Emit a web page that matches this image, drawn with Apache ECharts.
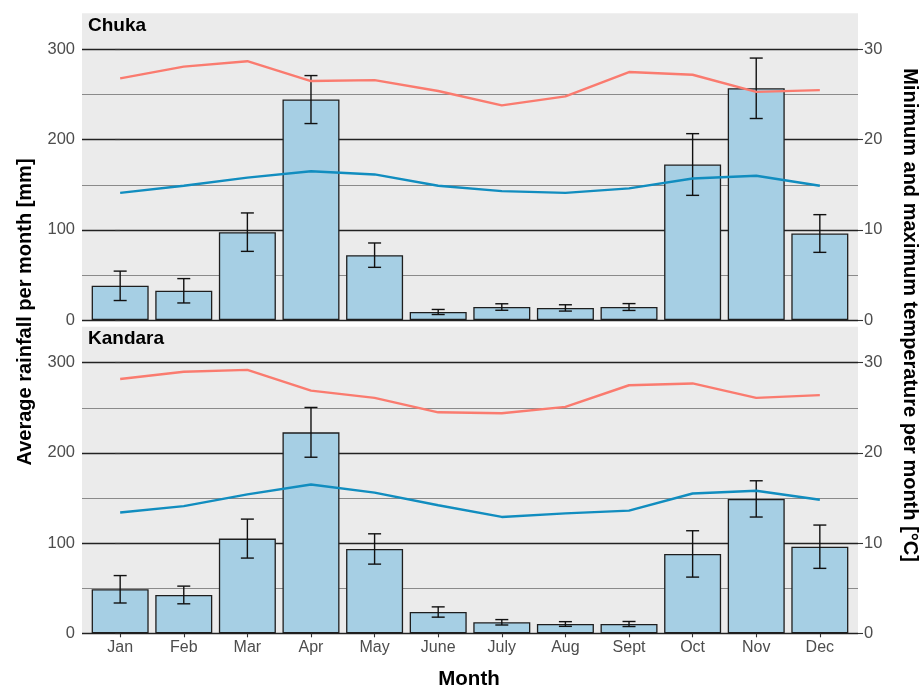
<!DOCTYPE html>
<html>
<head>
<meta charset="utf-8">
<script src="https://cdn.jsdelivr.net/npm/echarts@6/dist/echarts.min.js"></script>
<style>html,body{margin:0;padding:0;background:#fff}#c{width:921px;height:688px}</style>
</head>
<body>
<div id="c"></div>
<script>
var months = ['Jan','Feb','Mar','Apr','May','June','July','Aug','Sept','Oct','Nov','Dec'];
var rainTicks = [0, 100, 200, 300];
var tempTicks = [0, 10, 20, 30];

var chukaRain = [38, 32.5, 97.5, 244.5, 72, 9, 14.5, 13.5, 14.5, 172.5, 257, 96];
var chukaErr  = [16.3, 13.5, 21.3, 26.6, 13.5, 2.8, 3.6, 3.5, 3.8, 34.2, 33.5, 20.9];
var chukaMax  = [26.8, 28.1, 28.7, 26.5, 26.6, 25.4, 23.8, 24.8, 27.5, 27.2, 25.3, 25.5];
var chukaMin  = [14.1, 14.9, 15.8, 16.5, 16.15, 14.9, 14.3, 14.1, 14.6, 15.7, 16.0, 14.9];

var kandaraRain = [48.8, 42.5, 105, 222.8, 93.5, 23.6, 12.2, 10.3, 10.3, 88, 149, 96];
var kandaraErr  = [15.2, 9.8, 21.6, 27.6, 16.8, 5.7, 3.0, 2.6, 2.8, 25.7, 20.1, 24];
var kandaraMax  = [28.2, 29.0, 29.2, 26.9, 26.1, 24.5, 24.4, 25.1, 27.5, 27.7, 26.1, 26.4];
var kandaraMin  = [13.4, 14.1, 15.4, 16.5, 15.6, 14.2, 12.9, 13.3, 13.6, 15.5, 15.8, 14.8];

var panels = [
  {name: 'Chuka', rain: chukaRain, err: chukaErr, tmax: chukaMax, tmin: chukaMin},
  {name: 'Kandara', rain: kandaraRain, err: kandaraErr, tmax: kandaraMax, tmin: kandaraMin}
];

var FONT = '"Liberation Sans", Arial, sans-serif';
var LEFT = 82, WIDTH = 776;
var gridTops = [49.5, 362.7], gridH = 270.6;
var bgTops = [13.3, 326.7];

var chart = echarts.init(document.getElementById('c'), null, {renderer: 'canvas'});

var grids = [], xAxes = [], yAxes = [], series = [], graphics = [];
panels.forEach(function (p, k) {
  grids.push({left: LEFT, width: WIDTH, top: gridTops[k], height: gridH, containLabel: false});
  xAxes.push({
    type: 'value', gridIndex: k, min: -0.6, max: 11.6,
    axisLine: {show: false},
    splitLine: {show: false},
    axisTick: {show: k === 1, length: 4, lineStyle: {color: '#333', width: 1.1}, customValues: months.map(function (m, i) { return i; })},
    axisLabel: {show: k === 1, customValues: months.map(function (m, i) { return i; }),
      formatter: function (v) { return months[Math.round(v)]; },
      color: '#4d4d4d', fontSize: 16, fontFamily: FONT, margin: 6}
  });
  yAxes.push({
    type: 'value', gridIndex: k, min: 0, max: 300, interval: 100, position: 'left',
    axisLine: {show: false},
    axisTick: {show: true, length: 5, lineStyle: {color: '#333', width: 1.1}},
    axisLabel: {color: '#4d4d4d', fontSize: 16.5, fontFamily: FONT, margin: 7,
      customValues: rainTicks},
    splitLine: {show: true, lineStyle: {color: '#222', width: 1.3}},
    minorTick: {show: false, splitNumber: 2},
    minorSplitLine: {show: true, lineStyle: {color: '#8a8a8a', width: 1}}
  });
  yAxes.push({
    type: 'value', gridIndex: k, min: 0, max: 30, interval: 10, position: 'right',
    axisLine: {show: false},
    axisTick: {show: true, length: 5, lineStyle: {color: '#333', width: 1.1}},
    axisLabel: {color: '#4d4d4d', fontSize: 16.5, fontFamily: FONT, margin: 6,
      customValues: tempTicks},
    splitLine: {show: false}
  });
  var yl = k * 2, yr = k * 2 + 1;
  series.push({
    type: 'bar', xAxisIndex: k, yAxisIndex: yl, barWidth: 57, z: 2,
    data: p.rain.map(function (v, i) { return [i, v]; }),
    itemStyle: {color: '#a6cfe4', borderColor: '#1e1e1e', borderWidth: 1.3},
    emphasis: {disabled: true}
  });
  series.push({
    type: 'custom', xAxisIndex: k, yAxisIndex: yl, z: 3,
    data: p.rain.map(function (v, i) { return [i, v - p.err[i], v + p.err[i]]; }),
    renderItem: function (params, api) {
      var x = api.value(0);
      var lo = api.coord([x, api.value(1)]);
      var hi = api.coord([x, api.value(2)]);
      var hw = 6.5;
      var st = {stroke: '#111', lineWidth: 1.4};
      return {type: 'group', children: [
        {type: 'line', shape: {x1: lo[0], y1: lo[1], x2: hi[0], y2: hi[1]}, style: st},
        {type: 'line', shape: {x1: lo[0] - hw, y1: lo[1], x2: lo[0] + hw, y2: lo[1]}, style: st},
        {type: 'line', shape: {x1: hi[0] - hw, y1: hi[1], x2: hi[0] + hw, y2: hi[1]}, style: st}
      ]};
    }
  });
  series.push({
    type: 'line', xAxisIndex: k, yAxisIndex: yr, z: 4, symbol: 'none',
    data: p.tmax.map(function (v, i) { return [i, v]; }),
    lineStyle: {color: '#fa7b6f', width: 2.4}
  });
  series.push({
    type: 'line', xAxisIndex: k, yAxisIndex: yr, z: 4, symbol: 'none',
    data: p.tmin.map(function (v, i) { return [i, v]; }),
    lineStyle: {color: '#118dbf', width: 2.4}
  });
  graphics.push({type: 'rect', z: -10, silent: true,
    shape: {x: LEFT, y: bgTops[k], width: WIDTH, height: gridTops[k] + gridH - bgTops[k]},
    style: {fill: '#ebebeb'}});
  graphics.push({type: 'text', z: 10, x: LEFT + 6, y: bgTops[k] + 12,
    style: {text: p.name, font: 'bold 19px ' + FONT, fill: '#000', textVerticalAlign: 'middle'}});
});

graphics.push({type: 'text', x: 25, y: 312, rotation: Math.PI / 2,
  style: {text: 'Average rainfall per month [mm]', font: 'bold 20px ' + FONT, fill: '#000',
    textAlign: 'center', textVerticalAlign: 'middle'}});
graphics.push({type: 'text', x: 910, y: 315, rotation: -Math.PI / 2,
  style: {text: 'Minimum and maximum temperature per month [°C]', font: 'bold 20px ' + FONT, fill: '#000',
    textAlign: 'center', textVerticalAlign: 'middle'}});
graphics.push({type: 'text', x: 469, y: 679,
  style: {text: 'Month', font: 'bold 20.5px ' + FONT, fill: '#000',
    textAlign: 'center', textVerticalAlign: 'middle'}});

chart.setOption({
  animation: false,
  backgroundColor: '#fff',
  grid: grids,
  xAxis: xAxes,
  yAxis: yAxes,
  series: series,
  graphic: graphics
});
</script>
</body>
</html>
